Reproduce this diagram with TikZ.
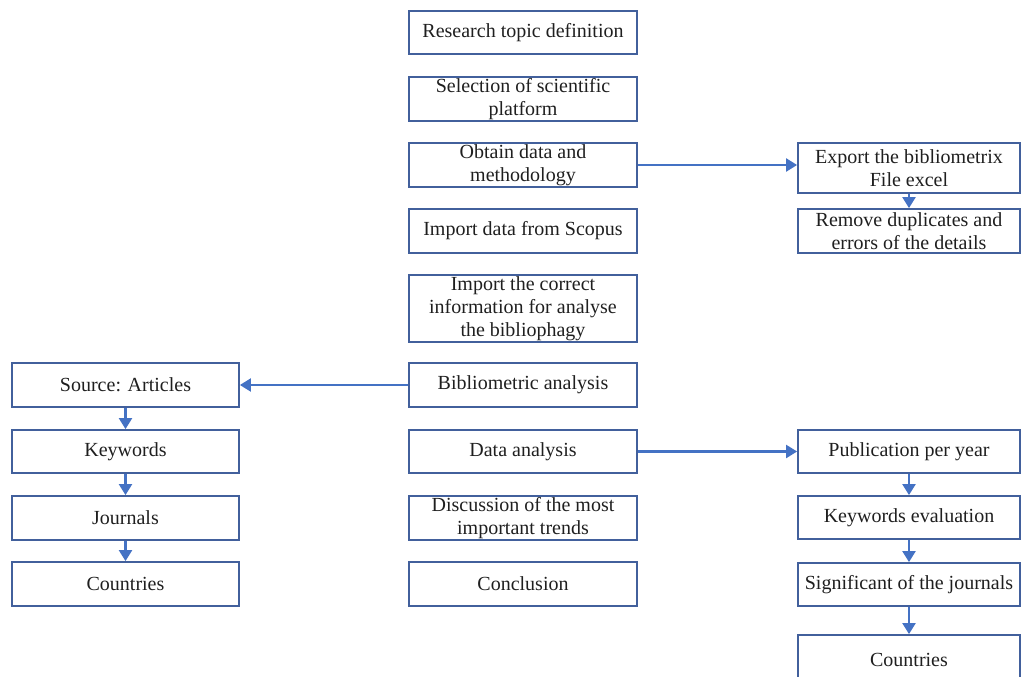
\documentclass[tikz,border=0pt]{standalone}
\usepackage{fontspec}
\setmainfont{Liberation Serif}
\usetikzlibrary{arrows.meta}
\definecolor{boxblue}{RGB}{66,96,156}
\definecolor{arrblue}{RGB}{68,114,196}
\begin{document}
\begin{tikzpicture}[x=1pt,y=-1pt,
  box/.style={draw=boxblue, line width=1.8pt, inner sep=0pt, align=center,
    font=\fontsize{20}{23}\selectfont, text=black!88},
  cbox/.style={box, minimum width=228pt, minimum height=44pt},
  lbox/.style={box, minimum width=227pt, minimum height=44pt},
  rbox/.style={box, minimum width=222pt, minimum height=44pt},
  conn/.style={draw=arrblue, line width=2.2pt, -{Triangle[length=11pt,width=13pt]}}]
\useasboundingbox (0,0) rectangle (1021,677);
% centre column
\node[cbox, minimum height=43pt] (n1) at (523,32.5) {Research topic definition};
\node[cbox] (n2) at (523,99) {Selection of scientific\\platform};
\node[cbox] (n3) at (523,165) {Obtain data and\\methodology};
\node[cbox] (n4) at (523,231) {Import data from Scopus};
\node[cbox, minimum height=67pt] (n5) at (523,308.5) {Import the correct\\information for analyse\\the bibliophagy};
\node[cbox] (n6) at (523,385) {Bibliometric analysis};
\node[cbox, minimum height=43pt] (n7) at (523,451.5) {Data analysis};
\node[cbox] (n8) at (523,518) {Discussion of the most\\important trends};
\node[cbox] (n9) at (523,584) {Conclusion};
% left column
\node[lbox] (l1) at (125.5,385) {Source: Articles};
\node[lbox, minimum height=43pt] (l2) at (125.5,451.5) {Keywords};
\node[lbox] (l3) at (125.5,518) {Journals};
\node[lbox] (l4) at (125.5,584) {Countries};
% right column
\node[rbox, minimum height=50pt] (r1) at (909,168) {Export the bibliometrix\\File excel};
\node[rbox] (r2) at (909,231) {Remove duplicates and\\errors of the details};
\node[rbox, minimum height=43pt] (r3) at (909,451.5) {Publication per year};
\node[rbox, minimum height=43pt] (r4) at (909,517.5) {Keywords evaluation};
\node[rbox, minimum height=43pt] (r5) at (909,584.5) {Significant of the journals};
\node[rbox, minimum height=50pt] (r6) at (909,660) {Countries};
% connectors
\draw[conn] (n3.east) -- (n3.east -| r1.west);
\draw[conn] (r1.south) -- (r2.north);
\draw[conn] (n6.west) -- (n6.west -| l1.east);
\draw[conn] (n7.east) -- (n7.east -| r3.west);
\draw[conn] (l1.south) -- (l2.north);
\draw[conn] (l2.south) -- (l3.north);
\draw[conn] (l3.south) -- (l4.north);
\draw[conn] (r3.south) -- (r4.north);
\draw[conn] (r4.south) -- (r5.north);
\draw[conn] (r5.south) -- (r6.north);
\end{tikzpicture}
\end{document}
